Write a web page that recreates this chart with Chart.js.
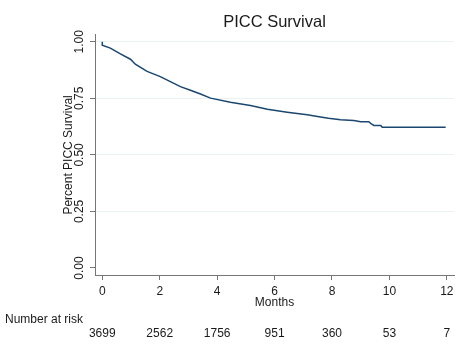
<!DOCTYPE html>
<html>
<head>
<meta charset="utf-8">
<script src="https://cdn.jsdelivr.net/npm/chart.js@4.4.0/dist/chart.umd.min.js"></script>
<style>
    html, body { margin: 0; padding: 0; background: #fff; }
    #wrap { width: 464px; height: 350px; }
</style>
</head>
<body>
<div id="wrap"><canvas id="kmChart" width="464" height="350"></canvas></div>
<script>
// Kaplan-Meier - PICC survival
const months = [0, 0, 0.28, 0.63, 0.98, 1.15, 1.56, 2.02, 2.37, 2.72, 3.07, 3.42, 3.77,
    4.46, 5.16, 5.75, 6.44, 7.14, 7.6, 7.88, 8.3, 8.76, 9.0, 9.28, 9.37, 9.46, 9.7, 9.75, 11.96];
const survival = [1.0, 0.985, 0.972, 0.947, 0.923, 0.901, 0.869, 0.846, 0.824, 0.802, 0.786, 0.769, 0.751,
    0.733, 0.718, 0.702, 0.689, 0.677, 0.668, 0.662, 0.655, 0.652, 0.647, 0.647, 0.637, 0.63, 0.63, 0.622, 0.622];

const xTicks = [0, 2, 4, 6, 8, 10, 12];
const yTicks = [0, 0.25, 0.5, 0.75, 1];

// number at risk table
const riskTimes = [0, 2, 4, 6, 8, 10, 12];
const atRisk = [3699, 2562, 1756, 951, 360, 53, 7];

const fontFamily = '"Liberation Sans", Arial, Helvetica, sans-serif';
const textColor = '#1a1a1a';
const axisColor = '#767676';

Chart.defaults.font.family = fontFamily;
Chart.defaults.color = textColor;

/**
 * Etiquetas verticales del eje Y y tabla "Number at risk"
 */
const extraText = {
    id: 'extraText',
    afterDraw(chart) {
        const { ctx, scales, chartArea } = chart;
        ctx.save();
        ctx.fillStyle = textColor;
        ctx.font = '12px ' + fontFamily;
        ctx.textAlign = 'center';
        ctx.textBaseline = 'middle';

        yTicks.forEach(v => {
            const y = scales.y.getPixelForValue(v);
            ctx.save();
            ctx.translate(chartArea.left - 15, y);
            ctx.rotate(-Math.PI / 2);
            ctx.fillText(v.toFixed(2), 0, 0);
            ctx.restore();
        });

        ctx.textAlign = 'left';
        ctx.fillText('Number at risk', 5, 319.5);

        ctx.textAlign = 'center';
        riskTimes.forEach((t, i) => {
            ctx.fillText(String(atRisk[i]), scales.x.getPixelForValue(t), 333.5);
        });
        ctx.restore();
    }
};

const ctx = document.getElementById('kmChart').getContext('2d');
new Chart(ctx, {
    type: 'line',
    data: {
        datasets: [{
            label: 'Survival',
            data: months.map((m, i) => ({ x: m, y: survival[i] })),
            borderColor: '#1a476f',
            borderWidth: 1.5,
            pointRadius: 0,
            tension: 0,
            fill: false
        }]
    },
    options: {
        responsive: false,
        animation: false,
        layout: { padding: { left: 0, right: 10, top: 0, bottom: 0 } },
        plugins: {
            legend: { display: false },
            tooltip: { enabled: false },
            title: {
                display: true,
                text: 'PICC Survival',
                fullSize: false,
                color: textColor,
                font: { size: 16.5, weight: 'normal' },
                padding: { top: 13, bottom: 2 }
            }
        },
        scales: {
            x: {
                type: 'linear',
                min: -0.254,
                max: 12.25,
                afterBuildTicks: scale => { scale.ticks = xTicks.map(v => ({ value: v })); },
                afterFit: scale => { scale.height = 75; },
                grid: { drawOnChartArea: false, tickLength: 5, tickColor: axisColor },
                border: { color: axisColor, width: 1 },
                ticks: { font: { size: 12 }, padding: 4, color: textColor },
                title: {
                    display: true,
                    text: 'Months',
                    font: { size: 12 },
                    padding: { top: 0, bottom: 40 }
                }
            },
            y: {
                type: 'linear',
                min: -0.031,
                max: 1.031,
                afterBuildTicks: scale => { scale.ticks = yTicks.map(v => ({ value: v })); },
                afterFit: scale => { scale.width = 95; },
                grid: {
                    color: c => (c.tick && c.tick.value === 0) ? 'rgba(0,0,0,0)' : '#eaf2f3',
                    tickColor: axisColor,
                    tickLength: 5
                },
                border: { color: axisColor, width: 1 },
                ticks: { display: false },
                title: {
                    display: true,
                    text: 'Percent PICC Survival',
                    font: { size: 12 },
                    padding: { top: 61, bottom: 0 }
                }
            }
        }
    },
    plugins: [extraText]
});
</script>
</body>
</html>
